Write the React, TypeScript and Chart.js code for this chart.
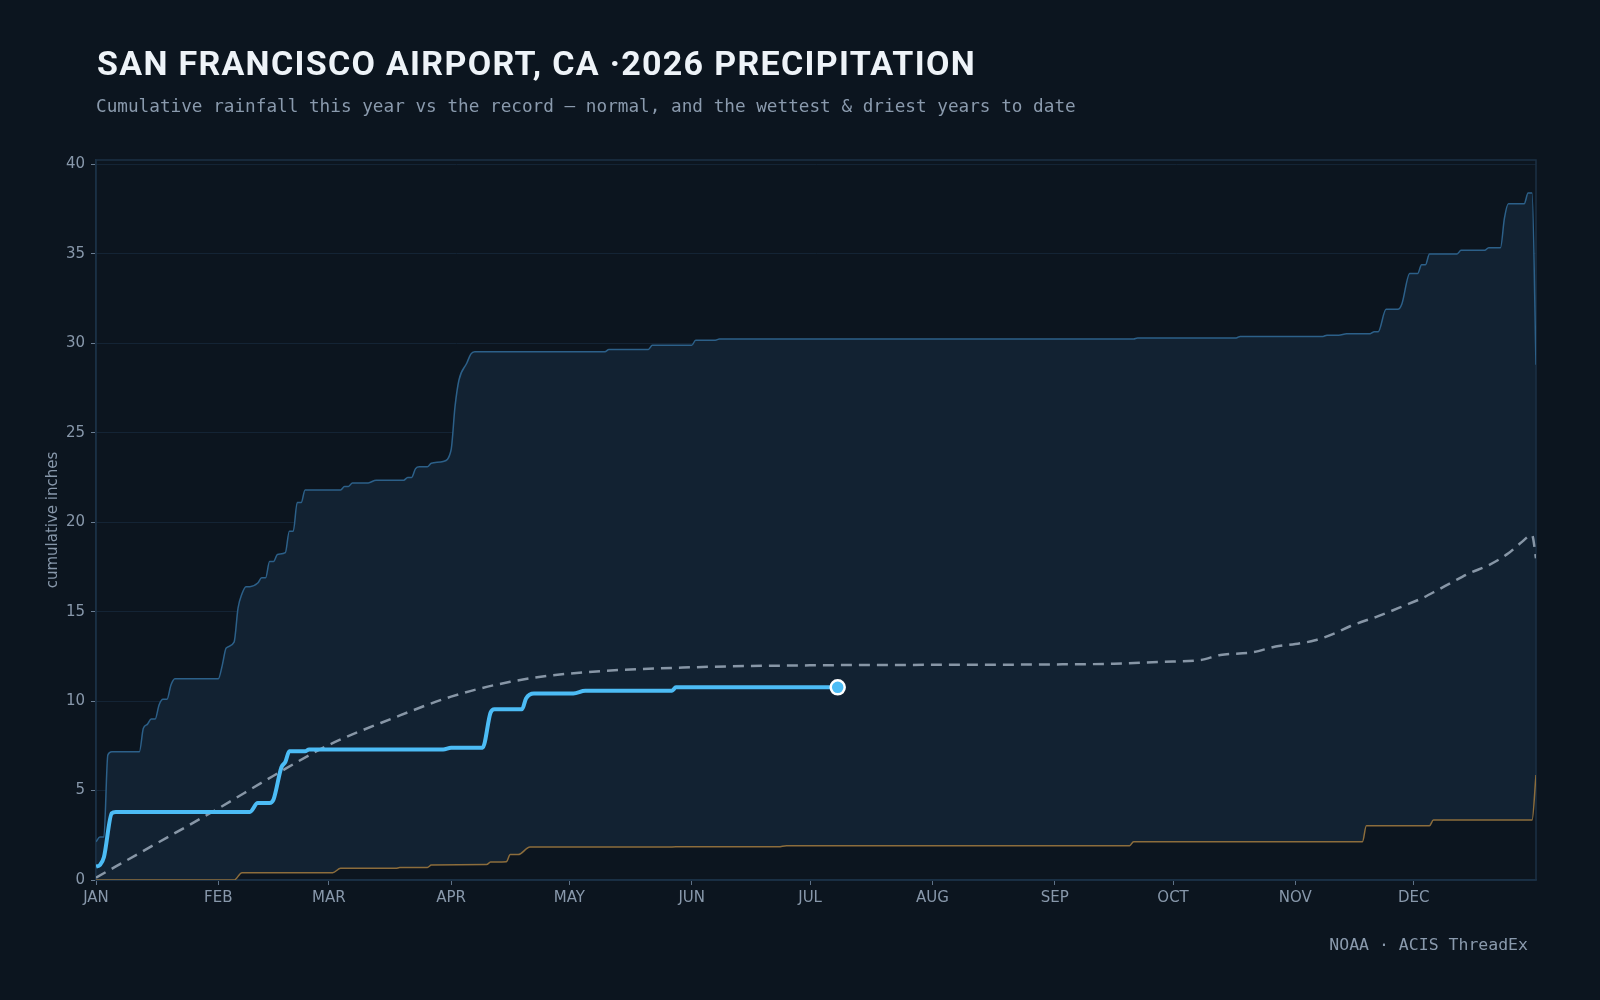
import React, { useEffect, useRef } from "react";
import { Chart, registerables } from "chart.js";

Chart.register(...registerables);

// ---- axis labels ----
const MONTH_LABELS = ["JAN", "FEB", "MAR", "APR", "MAY", "JUN", "JUL", "AUG", "SEP", "OCT", "NOV", "DEC"];
const MONTH_START_DAYS = [0, 31, 59, 90, 120, 151, 181, 212, 243, 273, 304, 334];
const Y_TICKS = [0, 5, 10, 15, 20, 25, 30, 35, 40];

// ---- 2026 year to date (day of year, cumulative inches) ----
const currentDays = [0, 1, 2, 4, 5, 39, 41, 44, 45, 47, 48, 49, 53, 54, 88, 90, 98, 100, 101, 108, 109, 111, 121, 124, 146, 147, 188];
const currentInches = [0.75, 0.84, 1.27, 3.73, 3.8, 3.8, 4.3, 4.3, 4.5, 6.3, 6.6, 7.2, 7.2, 7.3, 7.3, 7.4, 7.4, 9.35, 9.55, 9.55, 10.15, 10.43, 10.43, 10.58, 10.58, 10.77, 10.77];

// ---- normal ----
const normalDays = [0, 15, 31, 45, 59, 75, 90, 105, 120, 151, 181, 199, 241, 258, 270, 280, 285, 293, 299, 304, 309, 314, 318, 325, 331, 336, 340, 344, 348, 353, 358, 361, 364, 365];
const normalInches = [0.13, 2.0, 4.0, 5.83, 7.55, 9.02, 10.25, 11.08, 11.54, 11.89, 12.0, 12.02, 12.05, 12.09, 12.2, 12.3, 12.58, 12.72, 13.05, 13.19, 13.4, 13.79, 14.2, 14.75, 15.28, 15.74, 16.2, 16.68, 17.14, 17.6, 18.26, 18.82, 19.28, 17.98];

// ---- wettest year to date ----
const wettestDays = [0, 1, 2, 3, 4, 11, 12, 13, 14, 15, 16, 17, 18, 19, 20, 31, 32, 33, 35, 36, 37, 38, 39, 41, 42, 43, 44, 45, 46, 48, 49, 50, 51, 52, 53, 62, 63, 64, 65, 69, 71, 78, 79, 80, 81, 82, 84, 85, 88, 90, 91, 92, 94, 95, 96, 129, 130, 140, 141, 151, 152, 157, 158, 263, 264, 289, 290, 311, 312, 315, 317, 323, 324, 325, 327, 330, 331, 333, 335, 336, 337, 338, 345, 346, 352, 353, 356, 357, 358, 362, 363, 364, 365];
const wettestInches = [2.14, 2.4, 2.4, 6.99, 7.17, 7.17, 8.48, 8.7, 9.0, 9.0, 9.8, 10.1, 10.1, 10.9, 11.25, 11.25, 12.0, 12.97, 13.3, 15.2, 16.0, 16.4, 16.4, 16.6, 16.9, 16.9, 17.8, 17.8, 18.2, 18.3, 19.5, 19.5, 21.1, 21.1, 21.8, 21.8, 22.0, 22.0, 22.2, 22.2, 22.35, 22.35, 22.5, 22.5, 23.0, 23.1, 23.1, 23.3, 23.4, 24.04, 26.46, 27.95, 28.9, 29.4, 29.53, 29.53, 29.66, 29.66, 29.89, 29.89, 30.18, 30.18, 30.24, 30.24, 30.3, 30.3, 30.39, 30.39, 30.46, 30.46, 30.54, 30.54, 30.65, 30.65, 31.9, 31.9, 32.2, 33.9, 33.9, 34.4, 34.4, 35.0, 35.0, 35.2, 35.2, 35.35, 35.35, 37.0, 37.8, 37.8, 38.4, 38.4, 28.8];

// ---- driest year to date ----
const driestDays = [0, 35, 37, 60, 62, 76, 77, 84, 85, 99, 100, 104, 105, 107, 110, 145, 147, 173, 175, 262, 263, 321, 322, 338, 339, 364, 365];
const driestInches = [0, 0, 0.41, 0.41, 0.65, 0.65, 0.7, 0.7, 0.84, 0.86, 1.0, 1.02, 1.42, 1.42, 1.84, 1.84, 1.86, 1.86, 1.92, 1.92, 2.14, 2.14, 3.03, 3.03, 3.35, 3.35, 5.87];

const TITLE = "SAN FRANCISCO AIRPORT, CA \u00b72026 PRECIPITATION";
const SUBTITLE = "Cumulative rainfall this year vs the record \u2014 normal, and the wettest & driest years to date";
const SOURCE = "NOAA \u00b7 ACIS ThreadEx";
const Y_TITLE = "cumulative inches";

const BG = "#0c151f";
const FILL = "#122232";
const WET = "#2c6089";
const DRY = "#8c6d3c";
const NORMAL = "#8796a6";
const CURRENT = "#4cbcf5";
const GRID = "#142435";
const FRAME = "#1b3046";
const TICK_TEXT = "#8898ab";

const toPoints = (days: number[], vals: number[]) => days.map((d, i) => ({ x: d, y: vals[i] }));

const framePlugin = {
  id: "frame",
  beforeDatasetsDraw(chart: any) {
    const { ctx, chartArea } = chart;
    ctx.save();
    ctx.strokeStyle = FRAME;
    ctx.lineWidth = 1.5;
    ctx.strokeRect(chartArea.left, chartArea.top, chartArea.right - chartArea.left, chartArea.bottom - chartArea.top);
    ctx.restore();
  },
};

export default function App() {
  const canvasRef = useRef<HTMLCanvasElement | null>(null);

  useEffect(() => {
    document.body.style.margin = "0";
    document.body.style.background = BG;
    const canvas = canvasRef.current;
    if (!canvas) return;
    const lastCurrent = currentDays.length - 1;
    const chart = new Chart(canvas, {
      type: "line",
      data: {
        datasets: [
          {
            label: "2026",
            data: toPoints(currentDays, currentInches),
            borderColor: CURRENT,
            borderWidth: 4,
            cubicInterpolationMode: "monotone",
            pointRadius: (c: any) => (c.dataIndex === lastCurrent ? 7 : 0),
            pointBackgroundColor: CURRENT,
            pointBorderColor: "#ffffff",
            pointBorderWidth: 2.5,
            fill: false,
          },
          {
            label: "normal",
            data: toPoints(normalDays, normalInches),
            borderColor: NORMAL,
            borderWidth: 2.5,
            borderDash: [11, 7],
            cubicInterpolationMode: "monotone",
            pointRadius: 0,
            fill: false,
          },
          {
            label: "wettest",
            data: toPoints(wettestDays, wettestInches),
            borderColor: WET,
            borderWidth: 1.5,
            cubicInterpolationMode: "monotone",
            pointRadius: 0,
            backgroundColor: FILL,
            fill: "+1",
          },
          {
            label: "driest",
            data: toPoints(driestDays, driestInches),
            borderColor: DRY,
            borderWidth: 1.5,
            cubicInterpolationMode: "monotone",
            pointRadius: 0,
            fill: false,
          },
        ],
      },
      options: {
        animation: false,
        responsive: false,
        devicePixelRatio: 1,
        events: [],
        layout: { padding: { left: 30, right: 64, top: 160, bottom: 80 } },
        plugins: {
          legend: { display: false },
          tooltip: { enabled: false },
          filler: { drawTime: "beforeDatasetsDraw" },
        },
        scales: {
          x: {
            type: "linear",
            min: 0,
            max: 365,
            afterBuildTicks: (scale: any) => {
              scale.ticks = MONTH_START_DAYS.map((v) => ({ value: v }));
            },
            afterFit: (scale: any) => {
              scale.height = 40;
            },
            ticks: {
              autoSkip: false,
              maxRotation: 0,
              padding: 4,
              color: TICK_TEXT,
              font: { family: "DejaVu Sans", size: 15 },
              callback: (v: any) => MONTH_LABELS[MONTH_START_DAYS.indexOf(Number(v))],
            },
            grid: { drawOnChartArea: false, drawTicks: true, tickLength: 5, tickColor: "#5f7288" },
            border: { display: true, color: FRAME, width: 1.5 },
          },
          y: {
            type: "linear",
            min: 0,
            max: 40.25,
            afterBuildTicks: (scale: any) => {
              scale.ticks = Y_TICKS.map((v) => ({ value: v }));
            },
            afterFit: (scale: any) => {
              scale.width = 66;
            },
            ticks: {
              padding: 6,
              color: TICK_TEXT,
              font: { family: "DejaVu Sans", size: 15 },
            },
            grid: { color: GRID, lineWidth: 1, tickLength: 5, tickColor: "#6a7d92" },
            border: { display: true, color: FRAME, width: 1.5 },
            title: {
              display: true,
              text: Y_TITLE,
              color: TICK_TEXT,
              font: { family: "DejaVu Sans", size: 15 },
              padding: { top: 14, bottom: 0 },
            },
          },
        },
      },
      plugins: [framePlugin],
    } as any);
    return () => chart.destroy();
  }, []);

  return (
    <div style={{ position: "fixed", left: 0, top: 0, width: 1600, height: 1000, background: BG, overflow: "hidden" }}>
      <canvas ref={canvasRef} width={1600} height={1000} style={{ position: "absolute", left: 0, top: 0, width: 1600, height: 1000 }} />
      <div
        style={{
          position: "absolute",
          left: 97,
          top: 46,
          fontFamily: "Roboto, sans-serif",
          fontWeight: 700,
          fontSize: 34,
          lineHeight: "34px",
          letterSpacing: "1.3px",
          color: "#eef3f8",
          whiteSpace: "nowrap",
        }}
      >
        {TITLE}
      </div>
      <div
        style={{
          position: "absolute",
          left: 96,
          top: 98,
          fontFamily: "'DejaVu Sans Mono', monospace",
          fontSize: 17.7,
          lineHeight: "17.7px",
          color: "#8a9aad",
          whiteSpace: "nowrap",
        }}
      >
        {SUBTITLE}
      </div>
      <div
        style={{
          position: "absolute",
          right: 72,
          top: 937,
          fontFamily: "'DejaVu Sans Mono', monospace",
          fontSize: 16.5,
          lineHeight: "16.5px",
          color: "#8a9aad",
          whiteSpace: "nowrap",
        }}
      >
        {SOURCE}
      </div>
    </div>
  );
}
